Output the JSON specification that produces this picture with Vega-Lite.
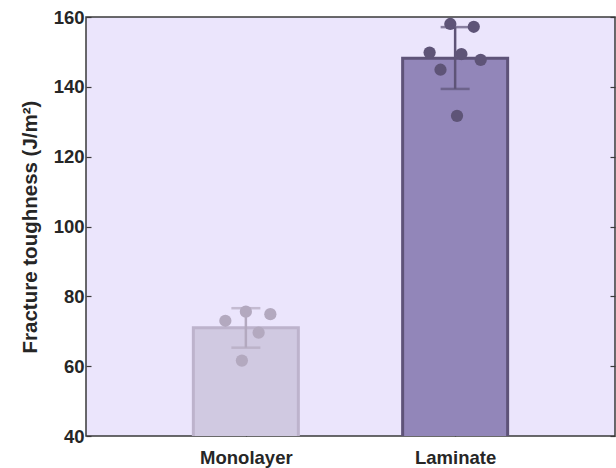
{
  "$schema": "https://vega.github.io/schema/vega-lite/v6.json",
  "width": 529,
  "height": 419,
  "autosize": "none",
  "padding": {"left": 86, "top": 17, "right": 1, "bottom": 32},
  "background": "#ffffff",
  "config": {
    "view": {"fill": "#EBE5FC", "stroke": "#3a3a3a", "strokeWidth": 1.5},
    "font": "Liberation Sans",
    "axis": {
      "labelFont": "Liberation Sans", "labelFontWeight": "bold", "labelFontSize": 18.5, "labelColor": "#262626",
      "titleFont": "Liberation Sans", "titleFontWeight": "bold", "titleFontSize": 20.5, "titleColor": "#262626",
      "grid": false, "domain": false, "tickColor": "#3a3a3a", "tickWidth": 1.2
    }
  },
  "datasets": {
    "bars": [
      {"group": "Monolayer", "pos": 1, "mean": 71.0, "lo": 65.3, "hi": 76.6},
      {"group": "Laminate", "pos": 2, "mean": 148.2, "lo": 139.4, "hi": 157.1}
    ],
    "pts": [
      {"group": "Monolayer", "x": 0.902, "value": 73.0},
      {"group": "Monolayer", "x": 1.0, "value": 75.6},
      {"group": "Monolayer", "x": 1.117, "value": 74.9},
      {"group": "Monolayer", "x": 1.061, "value": 69.6},
      {"group": "Monolayer", "x": 0.981, "value": 61.6},
      {"group": "Laminate", "x": 1.977, "value": 158.0},
      {"group": "Laminate", "x": 2.089, "value": 157.2},
      {"group": "Laminate", "x": 1.878, "value": 149.8},
      {"group": "Laminate", "x": 2.030, "value": 149.4},
      {"group": "Laminate", "x": 2.122, "value": 147.7},
      {"group": "Laminate", "x": 1.930, "value": 144.9},
      {"group": "Laminate", "x": 2.009, "value": 131.7}
    ]
  },
  "layer": [
    {
      "data": {"name": "bars"},
      "mark": {"type": "bar", "size": 105, "strokeWidth": 3, "clip": true},
      "encoding": {
        "x": {"field": "pos", "type": "quantitative",
              "scale": {"domain": [0.26, 2.74], "nice": false, "zero": false},
              "axis": {"title": null, "values": [1, 2], "labelExpr": "datum.value == 1 ? 'Monolayer' : 'Laminate'", "tickSize": -5, "labelPadding": 17, "labelFlush": false}},
        "y": {"field": "mean", "type": "quantitative",
              "scale": {"domain": [40, 160], "nice": false, "zero": false},
              "axis": {"title": "Fracture toughness (J/m²)", "values": [40, 60, 80, 100, 120, 140, 160], "tickSize": -5, "labelPadding": 7, "titlePadding": 13}},
        "fill": {"field": "group", "type": "nominal", "scale": {"domain": ["Monolayer", "Laminate"], "range": ["#D0C9E1", "#9286B9"]}, "legend": null},
        "stroke": {"field": "group", "type": "nominal", "scale": {"domain": ["Monolayer", "Laminate"], "range": ["#BDB3CC", "#5E5378"]}, "legend": null}
      }
    },
    {
      "data": {"name": "pts"},
      "mark": {"type": "circle", "size": 150, "opacity": 1},
      "encoding": {
        "x": {"field": "x", "type": "quantitative"},
        "y": {"field": "value", "type": "quantitative", "axis": null},
        "color": {"field": "group", "type": "nominal", "scale": {"domain": ["Monolayer", "Laminate"], "range": ["#B3A9BF", "#5E5477"]}, "legend": null}
      }
    },
    {
      "data": {"name": "bars"},
      "mark": {"type": "rule", "strokeWidth": 2.5},
      "encoding": {
        "x": {"field": "pos", "type": "quantitative"},
        "y": {"field": "lo", "type": "quantitative", "axis": null},
        "y2": {"field": "hi"},
        "color": {"field": "group", "type": "nominal", "scale": {"domain": ["Monolayer", "Laminate"], "range": ["#B0A6BD", "#5E5477"]}, "legend": null}
      }
    },
    {
      "data": {"name": "bars"},
      "transform": [{"fold": ["lo", "hi"], "as": ["end", "ev"]}],
      "mark": {"type": "tick", "orient": "horizontal", "size": 29, "thickness": 2.5},
      "encoding": {
        "x": {"field": "pos", "type": "quantitative"},
        "y": {"field": "ev", "type": "quantitative", "axis": null},
        "color": {"field": "group", "type": "nominal", "scale": {"domain": ["Monolayer", "Laminate"], "range": ["#B0A6BD", "#5E5477"]}, "legend": null}
      }
    },
    {
      "data": {"name": "bars"},
      "mark": {"type": "point", "opacity": 0},
      "encoding": {
        "y": {"field": "mean", "type": "quantitative",
              "scale": {"domain": [40, 160], "nice": false, "zero": false},
              "axis": {"orient": "right", "title": null, "labels": false, "values": [40, 60, 80, 100, 120, 140, 160], "tickSize": -5}}
      }
    }
  ],
  "resolve": {"axis": {"y": "independent"}}
}
